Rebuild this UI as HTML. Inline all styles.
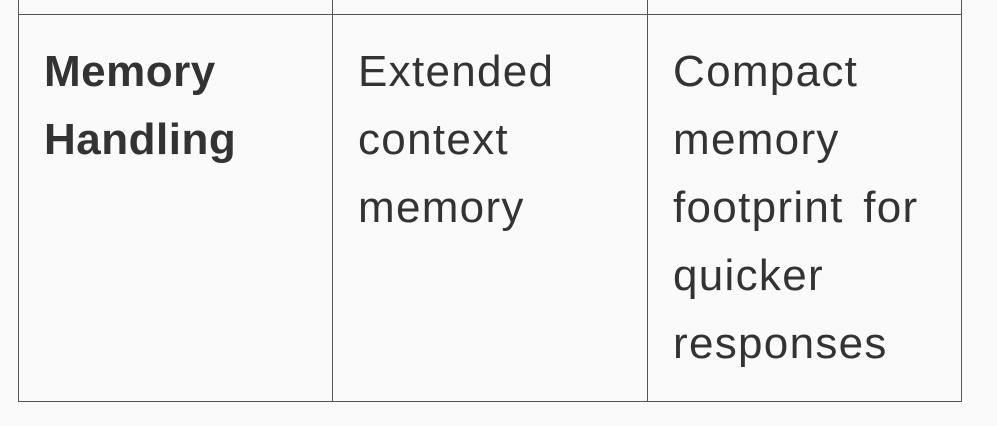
<!DOCTYPE html>
<html><head><meta charset="utf-8"><style>
html,body{margin:0;padding:0;background:#fafafa;width:997px;height:426px;overflow:hidden;position:relative}
.l{position:absolute;background:#555}
.t{position:absolute;font-family:"Liberation Sans",sans-serif;font-size:44px;line-height:68px;color:#333;letter-spacing:1.3px;word-spacing:6px;top:38px}
</style></head><body>
<div class="l" style="left:18px;top:0;width:1px;height:402px"></div>
<div class="l" style="left:332px;top:0;width:1px;height:402px"></div>
<div class="l" style="left:647px;top:0;width:1px;height:402px"></div>
<div class="l" style="left:961px;top:0;width:1px;height:402px"></div>
<div class="l" style="left:18px;top:14px;width:944px;height:1px"></div>
<div class="l" style="left:18px;top:401px;width:944px;height:1px"></div>
<div class="t" style="left:44px;font-weight:bold;letter-spacing:0.5px">Memory<br>Handling</div>
<div class="t" style="left:358px">Extended<br>context<br>memory</div>
<div class="t" style="left:673px">Compact<br>memory<br>footprint for<br>quicker<br>responses</div>
</body></html>
